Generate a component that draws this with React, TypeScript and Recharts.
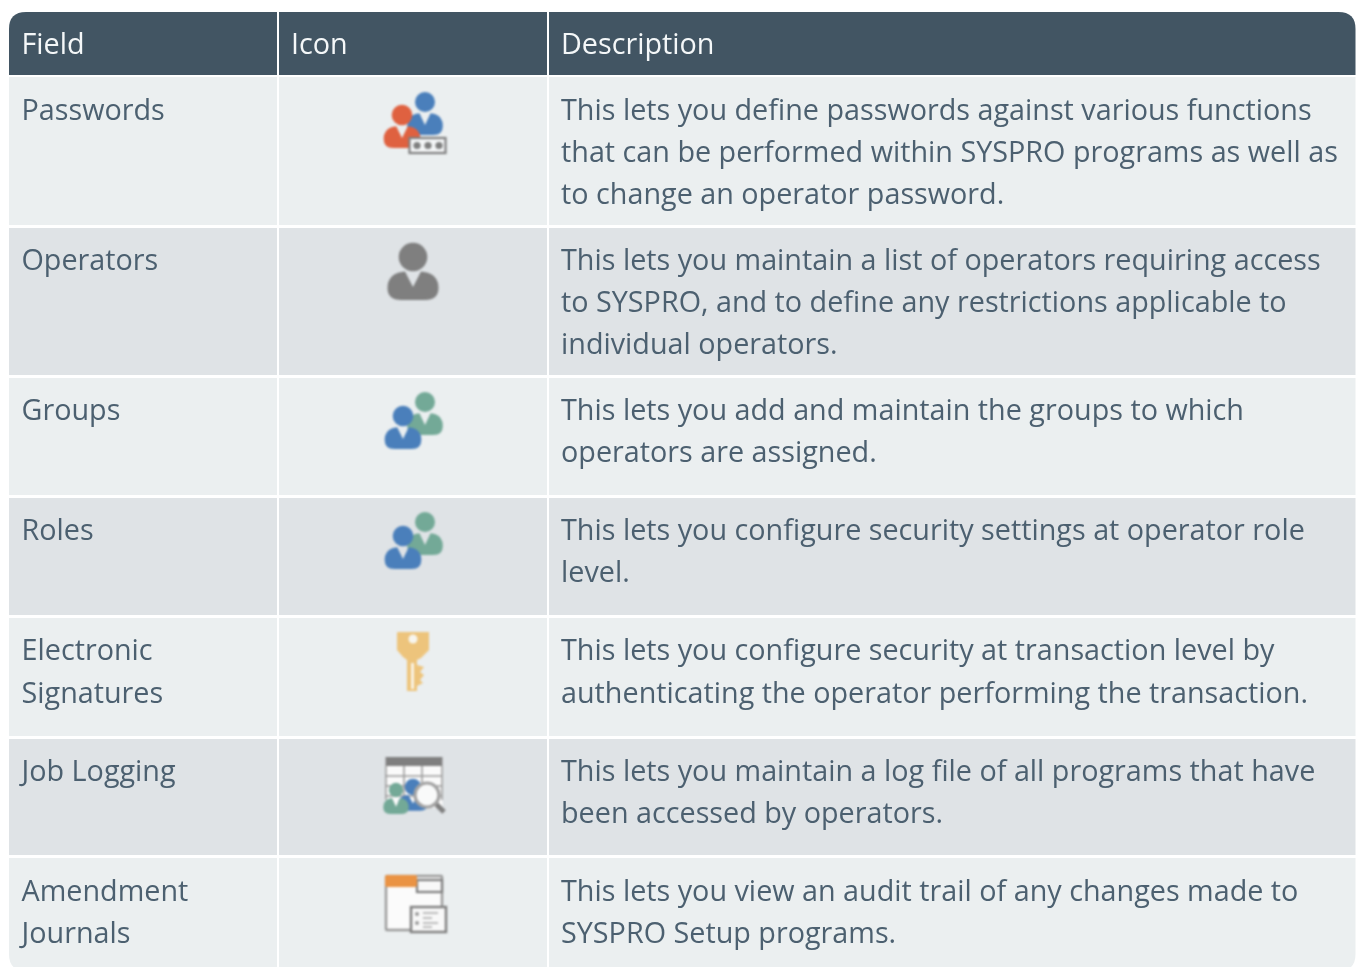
import React from "react";
import { ScatterChart, Scatter, XAxis, YAxis, ReferenceArea } from "recharts";

const WIDTH = 1357;
const HEIGHT = 967;

const columnStarts = [9, 279, 549];
const columnEnds = [277, 547, 1355.5];
const headerLabels = ["Field", "Icon", "Description"];
const headerTextX = [21.5, 291, 561];
const rowTops = [77, 228, 378, 498, 618, 739, 858];
const rowBottoms = [225, 375, 495, 615, 736, 855, 971];
const rowFills = ["#ebeff0", "#dfe3e6"];

const fieldLines = [
  ["Passwords"],
  ["Operators"],
  ["Groups"],
  ["Roles"],
  ["Electronic", "Signatures"],
  ["Job Logging"],
  ["Amendment", "Journals"],
];
const descriptionLines = [
  [
    "This lets you define passwords against various functions",
    "that can be performed within SYSPRO programs as well as",
    "to change an operator password.",
  ],
  [
    "This lets you maintain a list of operators requiring access",
    "to SYSPRO, and to define any restrictions applicable to",
    "individual operators.",
  ],
  ["This lets you add and maintain the groups to which", "operators are assigned."],
  ["This lets you configure security settings at operator role", "level."],
  [
    "This lets you configure security at transaction level by",
    "authenticating the operator performing the transaction.",
  ],
  ["This lets you maintain a log file of all programs that have", "been accessed by operators."],
  ["This lets you view an audit trail of any changes made to", "SYSPRO Setup programs."],
];
const firstBaselines = [120, 270, 420, 540, 660, 781, 901];
const lineGaps = [42, 42, 42, 42, 43, 42, 42];
const iconNames = ["passwords", "operators", "groups", "roles", "signatures", "logging", "journals"];
const iconTops = [80, 235, 385, 505, 625, 750, 868];

const headerPoints = headerLabels.map((label, i) => ({ x: headerTextX[i], y: 54, label, fill: "#f4f7f8" }));
const bodyPoints = firstBaselines.flatMap((base, r) => [
  ...fieldLines[r].map((label, l) => ({ x: 21.5, y: base + l * lineGaps[r], label, fill: "#4c6070" })),
  ...descriptionLines[r].map((label, l) => ({ x: 561, y: base + l * lineGaps[r], label, fill: "#4c6070" })),
]);
const iconPoints = iconNames.map((name, i) => ({ x: 370, y: iconTops[i], name }));

const BLUE = "#4a7fbb";
const RED = "#df6140";
const GREEN = "#73a997";
const GRAY = "#7f7f7f";
const MID = "#9a9a9a";

function Person({ x, y, s, sy, fill }: { x: number; y: number; s: number; sy?: number; fill: string }) {
  return (
    <g transform={`translate(${x} ${y})`} fill={fill}>
      <circle cx={0} cy={0} r={14.3 * s} />
      <path
        transform={`scale(${s} ${sy ?? s})`}
        d="M-8 14.5 L0 30 L8 14.5 L14 15.5 Q25.5 19 25.5 31 Q25.5 43 12 43 L-12 43 Q-25.5 43 -25.5 31 Q-25.5 19 -14 15.5 Z"
      />
    </g>
  );
}

function Icon({ cx, cy, payload }: any) {
  const n = payload.name;
  let body: React.ReactNode = null;
  if (n === "passwords") {
    body = (
      <>
        <Person x={55} y={22} s={0.7} sy={0.77} fill={BLUE} />
        <Person x={32} y={35} s={0.72} sy={0.77} fill={RED} />
        <rect x={39.5} y={58} width={36} height={15} fill="#f4f6f7" stroke={GRAY} strokeWidth={2.2} />
        {[47, 58, 69].map((c) => (
          <circle key={c} cx={c} cy={65.5} r={3.6} fill={GRAY} />
        ))}
      </>
    );
  } else if (n === "operators") {
    body = <Person x={43} y={22} s={1} fill={GRAY} />;
  } else if (n === "groups" || n === "roles") {
    body = (
      <>
        <Person x={55} y={17} s={0.7} sy={0.77} fill={GREEN} />
        <Person x={33} y={31} s={0.72} sy={0.77} fill={BLUE} />
      </>
    );
  } else if (n === "signatures") {
    body = (
      <g transform="translate(-370 -625)">
        <path
          d="M397 633 Q397 632 398 632 L429 632 L429 650 L421 658 L417 660 L417 665 L424 667 L420 672 L424 675 L420 680 L423 683 L417 686 L417 691 L407 691 L407 660 L403 657 L397 650 Z"
          fill="#edc47c"
        />
        <circle cx={413} cy={639} r={4.5} fill="#f7f5ee" />
        <rect x={411} y={663} width={3} height={26} fill="#f9f2e2" />
      </g>
    );
  } else if (n === "logging") {
    body = (
      <>
        <rect x={15.5} y={8} width={57} height={50} fill="#fafafa" />
        <rect x={15.5} y={7} width={57} height={9} fill={GRAY} />
        {[26, 36, 46].map((v) => (
          <line key={v} x1={15} x2={72} y1={v} y2={v} stroke={MID} strokeWidth={1.5} />
        ))}
        {[16, 34, 52, 72].map((v) => (
          <line key={v} x1={v} x2={v} y1={16} y2={50} stroke={MID} strokeWidth={1.5} />
        ))}
        <Person x={43} y={37} s={0.58} sy={0.55} fill={BLUE} />
        <Person x={26} y={40} s={0.5} sy={0.56} fill={GREEN} />
        <line x1={66} x2={74} y1={54} y2={62} stroke={GRAY} strokeWidth={5} />
        <circle cx={57} cy={45} r={12} fill="#f9fafa" stroke="#a3a3a3" strokeWidth={3.2} />
      </>
    );
  } else if (n === "journals") {
    body = (
      <>
        <rect x={16} y={8} width={56} height={54} rx={1} fill="#fbfbfb" stroke={MID} strokeWidth={2.4} />
        <rect x={47} y={12} width={25} height={12} fill="#f8f8f8" stroke={GRAY} strokeWidth={2.2} />
        <rect x={15} y={7} width={32} height={12} rx={2} fill="#ea9344" />
        <rect x={41} y={39} width={35} height={25} fill="#f8f8f8" stroke={GRAY} strokeWidth={2.4} />
        {[46, 55].map((v) => (
          <circle key={v} cx={47} cy={v} r={2} fill={MID} />
        ))}
        {[
          [45, 68],
          [50, 62],
          [55, 68],
          [59, 62],
        ].map(([v, e]) => (
          <line key={v} x1={53} x2={e} y1={v} y2={v} stroke="#bdbdbd" strokeWidth={2} />
        ))}
      </>
    );
  }
  return (
    <g transform={`translate(${cx} ${cy})`} style={{ filter: "blur(0.8px)" }}>
      {body}
    </g>
  );
}

function TextMark({ cx, cy, payload }: any) {
  return (
    <text x={cx} y={cy} fill={payload.fill} fontFamily="'Open Sans'" fontSize={28.75} style={{ filter: "blur(0.4px)" }}>
      {payload.label}
    </text>
  );
}

function Cell(props: any) {
  const { x, y, width, height, fill, tl, tr, bl, br } = props;
  const R = 17;
  const a = tl ? R : 0;
  const b = tr ? R : 0;
  const c = br ? R : 0;
  const d = bl ? R : 0;
  const xe = x + width;
  const ye = y + height;
  const path = `M${x + a} ${y} L${xe - b} ${y} Q${xe} ${y} ${xe} ${y + b} L${xe} ${ye - c} Q${xe} ${ye} ${xe - c} ${ye} L${x + d} ${ye} Q${x} ${ye} ${x} ${ye - d} L${x} ${y + a} Q${x} ${y} ${x + a} ${y} Z`;
  return <path d={path} fill={fill} />;
}

export default function App() {
  return (
    <div style={{ position: "absolute", left: 0, top: 0, width: WIDTH, height: HEIGHT, background: "#fff", overflow: "hidden" }}>
      <ScatterChart width={WIDTH} height={HEIGHT} margin={{ top: 0, right: 0, bottom: 0, left: 0 }}>
        <XAxis type="number" dataKey="x" domain={[0, WIDTH]} hide />
        <YAxis type="number" dataKey="y" domain={[0, HEIGHT]} reversed hide />
        {columnStarts.map((start, c) => (
          <ReferenceArea
            key={`h${c}`}
            x1={start}
            x2={columnEnds[c]}
            y1={12}
            y2={75}
            ifOverflow="visible"
            shape={(p: any) => <Cell {...p} fill="#425563" tl={c === 0} tr={c === 2} />}
          />
        ))}
        {rowTops.flatMap((top, r) =>
          columnStarts.map((start, c) => (
            <ReferenceArea
              key={`r${r}c${c}`}
              x1={start}
              x2={columnEnds[c]}
              y1={top}
              y2={rowBottoms[r]}
              ifOverflow="visible"
              shape={(p: any) => (
                <Cell {...p} fill={rowFills[r % 2]} bl={r === 6 && c === 0} br={r === 6 && c === 2} />
              )}
            />
          ))
        )}
        <Scatter data={headerPoints} shape={TextMark} isAnimationActive={false} />
        <Scatter data={bodyPoints} shape={TextMark} isAnimationActive={false} />
        <Scatter data={iconPoints} shape={Icon} isAnimationActive={false} />
      </ScatterChart>
    </div>
  );
}
